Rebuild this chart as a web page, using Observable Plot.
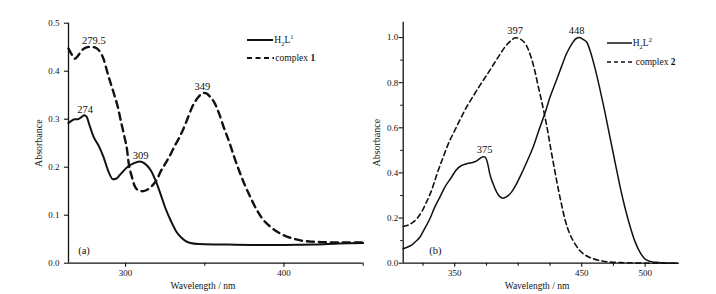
<!DOCTYPE html>
<html><head><meta charset="utf-8">
<script src="https://cdn.jsdelivr.net/npm/d3@7"></script>
<script src="https://cdn.jsdelivr.net/npm/@observablehq/plot@0.6"></script>
<style>
body{margin:0;background:#fff;}
#wrap{position:relative;width:716px;height:294px;font-family:"Liberation Serif","Times New Roman",Times,"DejaVu Serif",serif;color:#111;}
#wrap svg.plot{position:absolute;top:0;}
#wrap svg.plot text{font-family:"Liberation Serif","Times New Roman",Times,"DejaVu Serif",serif;}
.leg{position:absolute;display:flex;align-items:center;font-size:9.5px;height:12px;white-space:nowrap;color:#111;font-family:"Liberation Serif","Times New Roman",Times,"DejaVu Serif",serif;}
.leg svg{display:block;margin-right:1px}
.leg sub,.leg sup{font-size:6.5px;line-height:0}
</style></head><body><div id="wrap"></div>
<script>
// ---------- Panel (a) data ----------
const aWave1 = [264,266,268,270,272,274,275.5,277,280,283,286,289,292,294,297,301,305,309,312,316,319,322,325,328.5,332,335,338,341,346,360,380,400,420,435,450];
const aAbs1  = [0.292,0.297,0.300,0.300,0.304,0.308,0.305,0.290,0.262,0.245,0.222,0.193,0.175,0.176,0.186,0.200,0.208,0.212,0.208,0.193,0.172,0.145,0.116,0.089,0.066,0.054,0.046,0.042,0.040,0.039,0.038,0.038,0.039,0.041,0.042];
const aWaveC = [264,266,268,270,272,275,278,281,284,286.5,288.5,290.5,292.7,295,297,299,301,302,304,305.5,308,310.6,313,317,320,322,325,328.6,331,334,336,339,342,345,347,349,351,353,356,359,362,365.5,368.6,372,375,379,383,387,391.8,396,400,405,411,417,423.5,435,450];
const aAbsC  = [0.447,0.435,0.426,0.432,0.442,0.449,0.451,0.449,0.440,0.422,0.398,0.376,0.353,0.327,0.297,0.268,0.235,0.208,0.180,0.163,0.152,0.150,0.152,0.162,0.175,0.190,0.207,0.228,0.244,0.262,0.276,0.300,0.325,0.342,0.350,0.355,0.354,0.348,0.335,0.312,0.283,0.252,0.221,0.190,0.165,0.136,0.110,0.090,0.075,0.065,0.058,0.052,0.047,0.045,0.044,0.043,0.043];
const aPeakText = ["274","279.5","309","349"];
const aPeakWave = [274.5,280,309.5,348.5];
const aPeakAbs  = [0.308,0.451,0.212,0.355];
const aXTicks = [300,400];
const aXMinor = [350,450];
const aYTicks = [0,0.1,0.2,0.3,0.4,0.5];

// ---------- Panel (b) data ----------
const bWave2 = [309.4,313,316,319,322.5,326,330.4,334,338.2,342,347.4,351,355.3,359,363,367,370,372.5,374,376,377.6,380,383,385.5,388,391,394.7,398,402.5,407,411.7,416,420.9,425,430,434,438,442,446,448,451,454,457,460.3,464,468,472,476,480,484,488,491.7,495,499.6,504,508.7,515,526];
const bAbs2  = [0.064,0.072,0.080,0.095,0.115,0.150,0.197,0.245,0.292,0.335,0.381,0.412,0.433,0.440,0.445,0.452,0.465,0.472,0.470,0.440,0.396,0.355,0.315,0.295,0.288,0.295,0.315,0.345,0.396,0.452,0.514,0.585,0.662,0.735,0.810,0.870,0.928,0.970,0.997,1.000,0.992,0.979,0.935,0.868,0.780,0.677,0.565,0.455,0.345,0.248,0.165,0.100,0.058,0.020,0.008,0.004,0.001,0.000];
const bWaveC = [309.4,313,317.3,320.5,323.8,327.5,331.7,336,340.9,345,350,354.5,359.2,364.5,369.7,375,380,385,389.4,394,398,402,406.5,410,413,415.5,418.3,421,423.4,426,428.8,431.5,434,437,440.6,444.5,448.5,453,459,466,472.4,485,500,526];
const bAbsC  = [0.163,0.168,0.182,0.200,0.226,0.268,0.322,0.395,0.470,0.530,0.588,0.640,0.691,0.740,0.787,0.832,0.876,0.920,0.957,0.985,0.999,0.992,0.964,0.915,0.854,0.790,0.721,0.650,0.580,0.495,0.410,0.330,0.263,0.190,0.130,0.088,0.056,0.035,0.020,0.010,0.005,0.002,0.000,0.000];
const bPeakText = ["397","448","375"];
const bPeakWave = [397.5,446,373.5];
const bPeakAbs  = [0.999,1.000,0.472];
const bXTicks = [350,450,500];
const bXMinor = [325,375,400,425,475];
const bYTicks = [0,0.2,0.4,0.6,0.8,1.0];
const bYMinor = [0.1,0.3,0.5,0.7,0.9];

const xLabel = "Wavelength / nm";
const yLabel = "Absorbance";

const ink = "#111";
const serif = '"Liberation Serif", "Times New Roman", Times, "DejaVu Serif", serif';
const fmt1 = d3.format(".1f");

function panel(o) {
  const n1 = {length: o.w1.length}, nc = {length: o.wc.length};
  const marks = [
    Plot.line(n1, {x: o.w1, y: o.a1, stroke: ink, strokeWidth: o.sw1, curve: "monotone-x"}),
    Plot.line(nc, {x: o.wc, y: o.ac, stroke: ink, strokeWidth: o.swc, strokeDasharray: o.dash, curve: "monotone-x"}),
    Plot.ruleX([o.xDomain[0]], {stroke: ink, strokeWidth: 1.3}),
    Plot.ruleY([0], {stroke: ink, strokeWidth: 1.3}),
    Plot.axisX({ticks: o.xTicks, tickSize: 4, tickPadding: 2, fontSize: 9, label: null, stroke: ink, strokeWidth: 1.1}),
    Plot.axisX({ticks: o.xMinor, tickSize: 3, tickFormat: () => "", label: null, stroke: ink, strokeWidth: 1.1}),
    Plot.axisY({ticks: o.yTicks, tickSize: 4, tickPadding: o.yPad, tickFormat: fmt1, fontSize: 9, label: null, stroke: ink, strokeWidth: 1.1}),
    Plot.text({length: o.pt.length}, {x: o.pw, y: o.pa, text: o.pt, dy: o.pdy, fontSize: 10.5, fill: ink}),
    Plot.text([xLabel], {text: d => d, frameAnchor: "bottom", dx: o.xlDx, dy: 22.5, lineAnchor: "middle", fontSize: 9.5, fill: ink}),
    Plot.text([yLabel], {text: d => d, frameAnchor: "left", rotate: -90, dx: o.ylDx, textAnchor: "middle", lineAnchor: "middle", fontSize: 10, fill: ink}),
    Plot.text([o.tag], {text: d => d, frameAnchor: "bottom-left", dx: o.tagDx, dy: -12.7, textAnchor: "start", lineAnchor: "middle", fontSize: 10.5, fill: ink})
  ];
  if (o.yMinor) marks.push(Plot.axisY({ticks: o.yMinor, tickSize: 2.5, tickFormat: () => "", label: null, stroke: ink, strokeWidth: 1}));
  const svg = Plot.plot({
    width: o.width, height: 294,
    marginLeft: o.ml, marginRight: o.mr, marginTop: o.mt, marginBottom: 31.3,
    x: {domain: o.xDomain},
    y: {domain: o.yDomain},
    style: {fontFamily: serif, fontSize: "9px", background: "transparent", color: ink, overflow: "visible"},
    marks
  });
  svg.classList.add("plot");
  svg.style.left = o.left + "px";
  return svg;
}

const wrap = document.getElementById("wrap");
wrap.appendChild(panel({
  left: 0, width: 366, ml: 68, mr: 3.3, mt: 22.7,
  xDomain: [264, 450], yDomain: [0, 0.5],
  w1: aWave1, a1: aAbs1, wc: aWaveC, ac: aAbsC,
  sw1: 2, swc: 2.4, dash: "7,5",
  xTicks: aXTicks, xMinor: aXMinor, yTicks: aYTicks, yPad: 5,
  pt: aPeakText, pw: aPeakWave, pa: aPeakAbs, pdy: -6,
  xlDx: -12.9, ylDx: -30, tag: "(a)", tagDx: 9.7
}));
wrap.appendChild(panel({
  left: 366, width: 350, ml: 36.7, mr: 38.3, mt: 21.7,
  xDomain: [309.4, 526], yDomain: [0, 1.068],
  w1: bWave2, a1: bAbs2, wc: bWaveC, ac: bAbsC,
  sw1: 1.5, swc: 1.6, dash: "5,3.5",
  xTicks: bXTicks, xMinor: bXMinor, yTicks: bYTicks, yMinor: bYMinor, yPad: 1,
  pt: bPeakText, pw: bPeakWave, pa: bPeakAbs, pdy: -7,
  xlDx: -3.7, ylDx: -26.7, tag: "(b)", tagDx: 26
}));

// ---------- Legends ----------
function legendRow(left, top, dash, sw, html, len) {
  const d = document.createElement("div");
  d.className = "leg";
  d.style.left = left + "px";
  d.style.top = (top - 6) + "px";
  d.innerHTML = `<svg width="${len}" height="12"><line x1="0" x2="${len}" y1="6" y2="6" stroke="${ink}" stroke-width="${sw}" ${dash ? `stroke-dasharray="${dash}"` : ""}/></svg><span>${html}</span>`;
  wrap.appendChild(d);
}
legendRow(247.3, 40, null, 2, "H<sub>2</sub>L<sup>1</sup>", 26);
legendRow(247.3, 58.3, "5,3.5", 2.2, "complex <b>1</b>", 27);
legendRow(606.7, 43.3, null, 1.5, "H<sub>2</sub>L<sup>2</sup>", 25);
legendRow(606.7, 61.7, "4,3", 1.5, "complex <b>2</b>", 28);
</script></body></html>
